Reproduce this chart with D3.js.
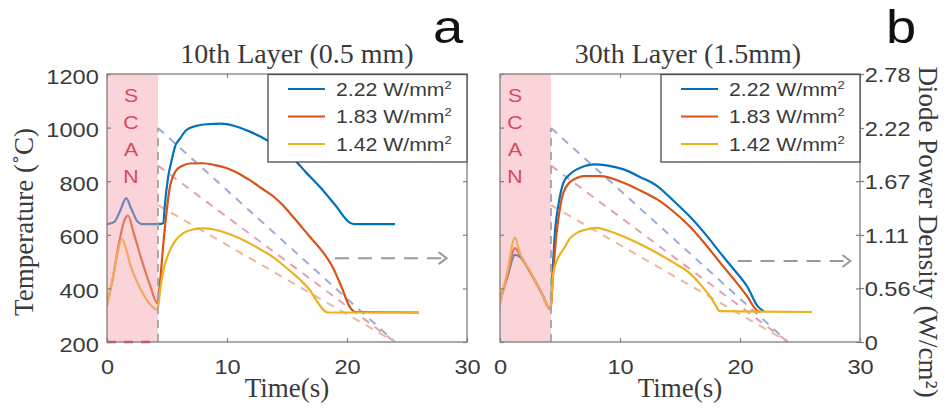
<!DOCTYPE html>
<html>
<head>
<meta charset="utf-8">
<script src="https://cdn.jsdelivr.net/npm/d3@7"></script>
<style>
  html, body { margin: 0; padding: 0; background: #fff; }
  svg { display: block; }
</style>
</head>
<body>
<svg id="chart" width="947" height="413"></svg>
<script>
// ---- tick values ----
const timeTicks = [0, 10, 20, 30];
const tempTicks = [200, 400, 600, 800, 1000, 1200];
const powerTicks = [0, 0.56, 1.11, 1.67, 2.22, 2.78];

// ---- series ----
const powerLabels = ["2.22 W/mm", "1.83 W/mm", "1.42 W/mm"];
const diodePower = [2.22, 1.83, 1.42];      // W/cm², diode power at the start of the ramp
const scanEnd = 4.25;                       // s, end of the laser scan
const rampEnd = 24;                         // s, diode power reaches zero
const arrowPower10 = [0.87, 19, 28.3];      // level, start, end of the arrow to the power axis
const arrowPower30 = [0.84, 19.8, 29.2];

// temperature histories [time s, °C] — 10th layer
const l10_222 = [[0,640],[0.6,648],[1.1,690],[1.6,737],[2.0,700],[2.5,652],[2.9,640],[4.25,640],[4.7,643],[4.8,700],[5.1,817],[5.4,880],[5.67,929],[6.1,960],[6.6,990],[7.4,1006],[8.5,1013],[9.5,1015],[10.5,1008],[11.9,985],[13.3,954],[14.5,918],[15.5,885],[16.6,832],[17.75,778],[19.0,712],[20.25,645],[20.6,640],[24,640]];
const l10_183 = [[0,345],[0.5,440],[1.0,570],[1.5,660],[1.75,672],[2.2,610],[3.0,490],[3.6,410],[4.2,345],[4.45,440],[4.7,568],[5.0,700],[5.25,780],[5.5,818],[5.8,842],[6.3,858],[6.9,866],[8.0,867],[9.0,860],[10.0,848],[11.0,828],[11.9,804],[13.0,770],[13.9,742],[14.7,708],[15.5,667],[16.9,593],[18.0,535],[18.8,480],[19.5,410],[20.25,330],[20.7,312],[26,310]];
const l10_142 = [[0,330],[0.4,420],[0.8,515],[1.25,585],[1.6,545],[2.0,480],[2.5,425],[3.0,380],[3.6,340],[4.2,320],[4.45,400],[4.7,469],[5.0,515],[5.25,543],[5.7,578],[6.36,606],[7.2,620],[8.0,624],[9.0,619],[10.0,606],[11.0,588],[11.9,568],[13.0,540],[13.9,515],[14.4,497],[15.5,456],[16.1,432],[16.9,394],[17.5,352],[18.0,322],[18.4,310],[26,310]];

// temperature histories [time s, °C] — 30th layer
const l30_222 = [[0,360],[0.6,440],[1.25,525],[1.6,520],[2.5,462],[3.5,382],[4.2,322],[4.4,480],[4.6,620],[4.9,720],[5.28,794],[5.8,825],[6.4,844],[7.0,856],[7.8,863],[9.0,858],[10.3,844],[11.7,815],[13.1,782],[14.5,725],[15.8,669],[17.2,598],[18.6,519],[19.6,465],[20.6,407],[21.5,332],[22,315]];
const l30_183 = [[0,350],[0.6,445],[1.25,550],[1.6,530],[2.5,460],[3.5,378],[4.2,320],[4.45,470],[4.7,600],[5.0,700],[5.28,757],[5.8,795],[6.4,812],[6.94,819],[8.33,819],[10.3,794],[11.7,765],[13.1,732],[14.5,685],[15.8,632],[17.2,560],[18.6,482],[19.6,428],[20.6,370],[21.4,318],[21.7,312]];
const l30_142 = [[0,340],[0.6,460],[1.25,590],[1.6,540],[2.5,465],[3.5,380],[4.2,320],[4.44,457],[4.8,510],[5.28,545],[5.8,585],[6.4,607],[7.2,620],[8.06,626],[9.0,615],[10.3,594],[11.7,565],[13.1,532],[14.5,495],[15.8,457],[16.7,415],[17.5,370],[18.0,335],[18.3,315],[26,312]];

// ---- styles ----
const seriesColors = ["#0072BD", "#D95319", "#EDB120"];
const rampColors = ["#9eaadb", "#e3a1b3", "#e9b99c"];
const SANS = "'Liberation Sans', Arial, sans-serif";
const SERIF = "'Liberation Serif', 'Times New Roman', serif";
const SX = 1.18;              // horizontal stretch applied to sans labels
const axisGray = "#7f7f7f";
const textGray = "#3a3a3a";

const svg = d3.select("#chart");
const plotW = 360, plotTop = 74, plotBottom = 342;
const y = d3.scaleLinear().domain([200, 1200]).range([plotBottom, plotTop]);
const p = d3.scaleLinear().domain([0, 2.78]).range([plotBottom, plotTop]);

const panels = [
  { x0: 107, title: "10th Layer (0.5 mm)", titleX: 297, tag: "a", tagX: 433,
    series: [l10_222, l10_183, l10_142], arrow: arrowPower10, scanT: 2.0,
    tempLabels: true, powerAxis: false, offDash: true },
  { x0: 500, title: "30th Layer (1.5mm)", titleX: 688, tag: "b", tagX: 886,
    series: [l30_222, l30_183, l30_142], arrow: arrowPower30, scanT: 1.25,
    tempLabels: false, powerAxis: true, offDash: false }
];

function sansText(sel, x, yy, str, size, anchor, fill) {
  return sel.append("text")
    .attr("transform", `translate(${x},${yy}) scale(${SX},1)`)
    .attr("text-anchor", anchor)
    .attr("font-family", SANS)
    .attr("font-size", size)
    .attr("fill", fill)
    .text(str);
}

panels.forEach((P, k) => {
  const x = d3.scaleLinear().domain([0, 30]).range([P.x0, P.x0 + plotW]);
  const g = svg.append("g");

  const clipId = "plot-clip-" + k;
  svg.append("clipPath").attr("id", clipId)
    .append("rect").attr("x", P.x0).attr("y", plotTop).attr("width", plotW).attr("height", plotBottom - plotTop);
  const plot = g.append("g").attr("clip-path", `url(#${clipId})`);

  // diode power ramps (dashed, right axis units)
  const pLine = d3.line().x(d => x(d[0])).y(d => p(d[1]));
  diodePower.forEach((pw, i) => {
    plot.append("path")
      .attr("d", pLine([[scanEnd, pw], [rampEnd, 0]]))
      .attr("fill", "none").attr("stroke", rampColors[i])
      .attr("stroke-width", 2).attr("stroke-dasharray", "8 7");
  });

  // temperature curves
  const tLine = d3.line().x(d => x(d[0])).y(d => y(d[1])).curve(d3.curveMonotoneX);
  P.series.forEach((s, i) => {
    plot.append("path")
      .attr("d", tLine(s))
      .attr("fill", "none").attr("stroke", seriesColors[i])
      .attr("stroke-width", 2.2).attr("stroke-linejoin", "round");
  });

  // scan window
  plot.append("rect")
    .attr("x", x(0)).attr("y", plotTop)
    .attr("width", x(scanEnd) - x(0)).attr("height", plotBottom - plotTop)
    .attr("fill", "#f5a0aa").attr("opacity", 0.45);

  // power switching on after the scan
  plot.append("path")
    .attr("d", pLine([[scanEnd, 0], [scanEnd, d3.max(diodePower)]]))
    .attr("stroke", "#a3a3a3").attr("stroke-width", 1.8).attr("stroke-dasharray", "8 6");

  if (P.offDash) {
    g.append("path")
      .attr("d", pLine([[0, 0], [scanEnd, 0]]))
      .attr("stroke", "#e0485a").attr("stroke-width", 2.5).attr("stroke-dasharray", "9 8");
  }

  // SCAN label
  "SCAN".split("").forEach((ch, i) => {
    sansText(g, x(P.scanT), plotTop + 27.5 + i * 27, ch, 18, "middle", "#d9485a");
  });

  // arrow towards the power axis
  const [ap, at0, at1] = P.arrow;
  const ay = p(ap);
  g.append("line")
    .attr("x1", x(at0)).attr("x2", x(at1) - 3).attr("y1", ay).attr("y2", ay)
    .attr("stroke", "#9a9a9a").attr("stroke-width", 2).attr("stroke-dasharray", "14 9");
  g.append("path")
    .attr("d", `M${x(at1) - 8},${ay - 6}L${x(at1)},${ay}L${x(at1) - 8},${ay + 6}`)
    .attr("fill", "none").attr("stroke", "#9a9a9a").attr("stroke-width", 2);

  // axes box
  g.append("rect")
    .attr("x", x(0)).attr("y", plotTop).attr("width", plotW).attr("height", plotBottom - plotTop)
    .attr("fill", "none").attr("stroke", axisGray).attr("stroke-width", 1.3);

  const styleAxis = a => {
    a.select(".domain").remove();
    a.selectAll(".tick line").attr("stroke", axisGray).attr("stroke-width", 1.2);
  };

  // bottom axis
  const xb = g.append("g").attr("transform", `translate(0,${plotBottom})`)
    .call(d3.axisBottom(x).tickValues(timeTicks).tickSizeInner(-4).tickSizeOuter(0).tickPadding(18));
  styleAxis(xb);
  xb.selectAll(".tick text")
    .attr("font-family", SANS).attr("font-size", 20).attr("fill", textGray)
    .attr("transform", `scale(${SX},1)`);

  // top axis (ticks only)
  const xt = g.append("g").attr("transform", `translate(0,${plotTop})`)
    .call(d3.axisTop(x).tickValues(timeTicks).tickSizeInner(-4).tickSizeOuter(0).tickFormat(""));
  styleAxis(xt);

  // left temperature axis
  const yl = g.append("g").attr("transform", `translate(${x(0)},0)`)
    .call(d3.axisLeft(y).tickValues(tempTicks).tickSizeInner(-4).tickSizeOuter(0).tickPadding(7)
      .tickFormat(P.tempLabels ? d3.format("d") : ""));
  styleAxis(yl);
  yl.selectAll(".tick text")
    .attr("font-family", SANS).attr("font-size", 20).attr("fill", textGray)
    .attr("dy", "0.45em").attr("transform", `scale(${SX},1)`);

  // right edge: mirrored temperature ticks
  const yr = g.append("g").attr("transform", `translate(${x(30)},0)`)
    .call(d3.axisRight(y).tickValues(tempTicks).tickSizeInner(-4).tickSizeOuter(0).tickFormat(""));
  styleAxis(yr);

  if (P.powerAxis) {
    const pa = g.append("g").attr("transform", `translate(${x(30)},0)`)
      .call(d3.axisRight(p).tickValues(powerTicks).tickSizeInner(4).tickSizeOuter(0).tickPadding(0)
        .tickFormat(d => d === 0 ? "0" : d.toFixed(2)));
    styleAxis(pa);
    pa.selectAll(".tick text")
      .attr("font-family", SANS).attr("font-size", 20).attr("fill", textGray)
      .attr("dy", "0.36em").attr("transform", `scale(${SX},1)`);
  }

  // legend
  const lg = g.append("g");
  const lx = x(30) - 199;
  lg.append("rect")
    .attr("x", lx).attr("y", plotTop + 0.5).attr("width", 199).attr("height", 87.5)
    .attr("fill", "#fff").attr("stroke", "#4d4d4d").attr("stroke-width", 1.3);
  powerLabels.forEach((lab, i) => {
    const ry = plotTop + 15 + i * 27.5;
    lg.append("line")
      .attr("x1", lx + 20).attr("x2", lx + 57).attr("y1", ry).attr("y2", ry)
      .attr("stroke", seriesColors[i]).attr("stroke-width", 2.2);
    const t = sansText(lg, lx + 68, ry + 6.5, lab, 18, "start", textGray);
    t.append("tspan").attr("font-size", 11).attr("dy", -7).text("2");
  });

  // title
  g.append("text")
    .attr("x", P.titleX).attr("y", 63)
    .attr("text-anchor", "middle")
    .attr("font-family", SERIF).attr("font-size", 28).attr("fill", textGray)
    .text(P.title);

  // x label
  g.append("text")
    .attr("x", (x(0) + x(30)) / 2).attr("y", 397)
    .attr("text-anchor", "middle")
    .attr("font-family", SERIF).attr("font-size", 27).attr("fill", textGray)
    .text("Time(s)");

  // panel tag
  sansText(g, P.tagX, 43, P.tag, 46, "start", "#111");
});

// y axis titles
svg.append("text")
  .attr("transform", "translate(33,222) rotate(-90)")
  .attr("text-anchor", "middle")
  .attr("font-family", SERIF).attr("font-size", 27).attr("fill", textGray)
  .text("Temperature (˚C)");

svg.append("text")
  .attr("transform", "translate(919,232) rotate(90)")
  .attr("text-anchor", "middle")
  .attr("font-family", SERIF).attr("font-size", 27).attr("fill", textGray)
  .text("Diode Power Density (W/cm²)");
</script>
</body>
</html>
